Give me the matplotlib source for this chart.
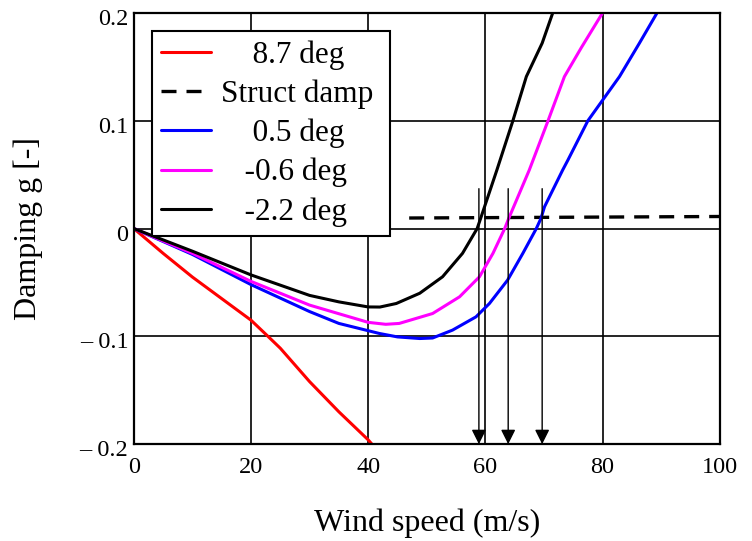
import numpy as np
import matplotlib.pyplot as plt
import matplotlib.transforms as mtransforms

plt.rcParams['font.family'] = ['Liberation Serif', 'DejaVu Serif']

# Damping curves (wind speed m/s, damping g)
x_87 = [0, 5, 10, 15, 20, 22.9, 25, 30, 35, 40, 40.8]
g_87 = [0, -0.023, -0.045, -0.065, -0.085, -0.1, -0.111, -0.142, -0.170, -0.196, -0.201]

x_05 = [0, 5, 10, 20, 30, 35, 41.9, 45, 48.8, 51, 54.4, 58.4, 60.7, 63.8, 66.4,
        68.7, 69.5, 70.1, 73.2, 74.1, 77.5, 82.9, 86.3, 89.3]
g_05 = [0, -0.012, -0.024, -0.052, -0.077, -0.088, -0.0973, -0.1005, -0.102, -0.1015,
        -0.0942, -0.0819, -0.0695, -0.0478, -0.023, 0, 0.0095, 0.0202, 0.0543,
        0.0636, 0.1, 0.141, 0.172, 0.2]

x_m06 = [0, 5, 10, 20, 30, 35, 40, 43, 45.3, 51, 55.6, 59, 61.3, 63.3, 64,
         67.5, 70.7, 73.5, 76.4, 80]
g_m06 = [0, -0.0115, -0.023, -0.049, -0.071, -0.079, -0.087, -0.0888, -0.088,
         -0.0788, -0.0633, -0.0447, -0.023, 0, 0.0095, 0.0543, 0.1, 0.141, 0.168, 0.2]

x_m22 = [0, 5, 10, 20, 30, 35, 40, 42, 44.8, 48.8, 52.7, 56.1, 58.6, 59.2,
         61.95, 64.7, 67, 69.7, 71.5]
g_m22 = [0, -0.0105, -0.021, -0.043, -0.062, -0.068, -0.0727, -0.0728, -0.0695,
         -0.060, -0.0447, -0.023, 0, 0.0095, 0.054, 0.1, 0.141, 0.172, 0.2]

x_struct = [47, 100]
g_struct = [0.0098, 0.0112]

# flutter speeds marked with arrows
flutter_speeds = [58.9, 63.9, 69.7]
arrow_top = 0.037

xticks = [0, 20, 40, 60, 80, 100]
yticks = [-0.2, -0.1, 0, 0.1, 0.2]
ytick_labels = ['\u2013 0.2', '\u2013 0.1', '0', '0.1', '0.2']

fig = plt.figure(figsize=(7.52, 5.41), dpi=100)
ax = fig.add_axes([0.178, 0.179, 0.779, 0.797])

kw = dict(lw=2.2, solid_joinstyle='round', solid_capstyle='round')
ax.plot(x_87, g_87, color='red', label='    8.7 deg', **kw)
ax.plot(x_struct, g_struct, color='black', lw=2.4, ls=(0, (4.5, 3)), label='Struct damp ')
ax.plot(x_05, g_05, color='blue', label='    0.5 deg', **kw)
ax.plot(x_m06, g_m06, color='magenta', label='   -0.6 deg', **kw)
ax.plot(x_m22, g_m22, color='black', label='   -2.2 deg', **kw)

for v in flutter_speeds:
    ax.annotate('', xy=(v, -0.2), xytext=(v, arrow_top),
                arrowprops=dict(arrowstyle='-|>', color='black', lw=1.0,
                                mutation_scale=22, shrinkA=0, shrinkB=0))

ax.set_xlim(0, 100)
ax.set_ylim(-0.2, 0.2)
ax.set_xticks(xticks)
ax.set_yticks(yticks)
ax.set_yticklabels(ytick_labels)
ax.tick_params(length=0, labelsize=17.5)
ax.tick_params(axis='x', pad=9)
ax.tick_params(axis='y', pad=4)
ax.grid(True, color='black', lw=1.2)
for s in ax.spines.values():
    s.set_linewidth(1.6)

# y tick labels sit a little below their grid lines
shift = mtransforms.ScaledTranslation(0, -4 / 100, fig.dpi_scale_trans)
for lab in ax.get_yticklabels():
    lab.set_transform(lab.get_transform() + shift)

ax.set_xlabel('Wind speed (m/s)', fontsize=23, labelpad=22)
ax.set_ylabel('Damping g [-]', fontsize=23, labelpad=26)

leg = ax.legend(loc='upper left', bbox_to_anchor=(152 / 752, 1 - 31 / 541),
                bbox_transform=fig.transFigure, fontsize=22.5, fancybox=False,
                framealpha=1, edgecolor='black', handlelength=1.6,
                borderaxespad=0, borderpad=0.3, labelspacing=0.31, handletextpad=0.3)
leg.get_frame().set_linewidth(1.5)

fig.savefig('out.png', dpi=100)
